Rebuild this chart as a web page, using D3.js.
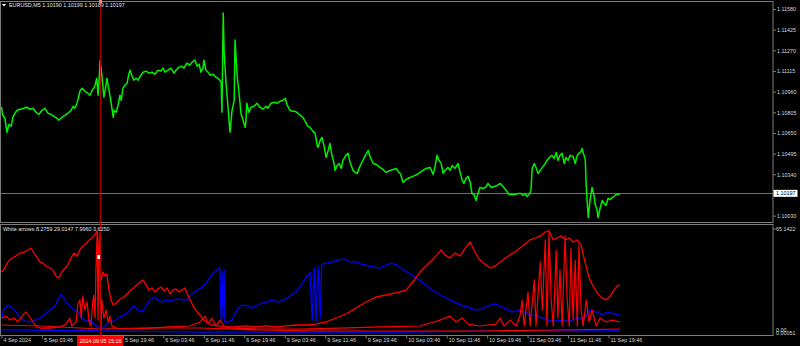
<!DOCTYPE html>
<html>
<head>
<meta charset="utf-8">
<script src="https://cdn.jsdelivr.net/npm/d3@7"></script>
<style>
  html, body { margin: 0; padding: 0; background: #000; }
  #viz { width: 800px; height: 346px; }
  text { font-family: "Liberation Sans", Arial, sans-serif; }
</style>
</head>
<body>
<div id="viz"></div>
<script>
// EURUSD M5 closes, bar number counted from 4 Sep 19:46
var priceBar = [0,3,8,13,18,23,27,32,37,44,53,60,68,75,82,89,96,103,110,117,125,132,136,143,151,158,165,170,174,179,181,186,191,196,200,205,210,215,219,222,226,229,231,234,238,243,248,250,255,260,265,267,272,276,281,284,288,293,298,302,305,310,314,319,324,329,336,343,350,357,364,371,378,383,388,395,402,409,414,421,428,433,440,447,452,459,464,469,473,478,480,485,490,495,502,509,516,521,523,526,528,533,537,542,547,552,554,559,564,568,573,578,580,582,587,592,599,606,613,620,628,632,639,647,654,661,668,673,677,684,689,696,703,708,715,720,727,732,739,744,749,751,756,760,765,770,775,779,784,789,791,796,801,806,810,817,822,827,834,839,844,848,855,862,870,874,882,889,898,905,912,922,929,936,941,946,953,960,969,976,986,993,1000,1007,1017,1024,1029,1033,1038,1043,1048,1052,1059,1064,1069,1076,1083,1088,1093,1097,1102,1107,1112,1116,1121,1126,1131,1135,1143,1150,1154,1162,1169,1176,1183,1190,1197,1204,1211,1218,1226,1233,1237,1242,1247,1252,1256,1259,1264,1268,1273,1278,1285,1290,1294,1302,1306,1311,1316,1320,1325,1330,1335,1339,1344,1349,1356,1361,1366,1370,1375,1377,1382,1385,1387,1392,1396,1401,1406,1408,1413,1415,1420,1425,1430,1434,1439,1444,1449,1453,1458,1463,1467];
var priceClose = [1.10843,1.10783,1.10760,1.10655,1.10715,1.10700,1.10767,1.10798,1.10820,1.10828,1.10835,1.10843,1.10828,1.10835,1.10805,1.10790,1.10820,1.10835,1.10798,1.10790,1.10775,1.10760,1.10745,1.10767,1.10783,1.10798,1.10820,1.10850,1.10835,1.10873,1.10895,1.10963,1.10986,1.10971,1.10956,1.10948,1.10933,1.10971,1.10986,1.11008,1.11061,1.10933,1.11016,1.11196,1.11083,1.10918,1.11008,1.11061,1.10971,1.10880,1.10767,1.10820,1.10805,1.10850,1.10933,1.10895,1.10986,1.11008,1.11023,1.11091,1.11121,1.11076,1.11046,1.11061,1.11046,1.11076,1.11106,1.11114,1.11098,1.11106,1.11091,1.11121,1.11114,1.11136,1.11106,1.11121,1.11136,1.11098,1.11121,1.11144,1.11151,1.11136,1.11174,1.11159,1.11181,1.11196,1.11151,1.11166,1.11106,1.11136,1.11196,1.11121,1.11106,1.11083,1.11091,1.11068,1.11053,1.11031,1.10805,1.11550,1.11271,1.11008,1.10858,1.10655,1.10820,1.10895,1.11347,1.11083,1.10933,1.10798,1.10745,1.10692,1.10745,1.10873,1.10805,1.10843,1.10850,1.10873,1.10843,1.10828,1.10850,1.10835,1.10873,1.10880,1.10873,1.10888,1.10895,1.10910,1.10865,1.10820,1.10813,1.10813,1.10798,1.10783,1.10767,1.10738,1.10700,1.10692,1.10662,1.10647,1.10557,1.10542,1.10594,1.10617,1.10557,1.10467,1.10519,1.10572,1.10482,1.10421,1.10369,1.10406,1.10421,1.10384,1.10444,1.10482,1.10497,1.10429,1.10369,1.10354,1.10346,1.10384,1.10429,1.10474,1.10519,1.10474,1.10421,1.10414,1.10391,1.10376,1.10354,1.10369,1.10376,1.10384,1.10361,1.10346,1.10279,1.10301,1.10316,1.10324,1.10339,1.10354,1.10369,1.10384,1.10391,1.10339,1.10406,1.10482,1.10444,1.10421,1.10346,1.10369,1.10391,1.10369,1.10406,1.10384,1.10421,1.10354,1.10294,1.10271,1.10309,1.10324,1.10279,1.10196,1.10188,1.10143,1.10203,1.10241,1.10233,1.10248,1.10271,1.10241,1.10248,1.10256,1.10271,1.10248,1.10218,1.10188,1.10188,1.10188,1.10196,1.10196,1.10181,1.10196,1.10173,1.10188,1.10218,1.10384,1.10421,1.10391,1.10346,1.10369,1.10399,1.10421,1.10444,1.10474,1.10482,1.10459,1.10504,1.10444,1.10482,1.10497,1.10421,1.10467,1.10444,1.10482,1.10474,1.10421,1.10482,1.10497,1.10512,1.10534,1.10482,1.10444,1.10256,1.10015,1.10143,1.10241,1.10173,1.10121,1.10068,1.10015,1.10083,1.10143,1.10121,1.10106,1.10158,1.10151,1.10166,1.10173,1.10188,1.10188,1.10197];

// indicator "White arrows" buffers
var redHighBar = [0,8,15,25,34,44,53,63,70,77,84,91,98,106,115,122,129,136,143,151,158,165,172,179,186,193,200,208,215,222,227,231,236,241,246,250,255,260,265,272,279,286,293,300,307,314,321,329,336,343,350,357,364,371,378,386,393,400,407,414,421,428,435,442,450,457,464,471,480,490,499,514,533,556,580,604,628,651,675,699,722,746,770,794,817,841,865,889,912,936,960,979,993,1007,1022,1033,1043,1052,1064,1076,1088,1100,1112,1121,1131,1140,1150,1159,1171,1183,1195,1207,1218,1230,1242,1254,1266,1278,1290,1299,1309,1318,1328,1337,1347,1356,1366,1375,1382,1389,1396,1406,1415,1425,1434,1444,1453,1461,1467];
var redHigh = [38.2,40.7,44.5,47.0,48.2,50.1,50.7,52.0,53.2,50.1,47.6,44.5,43.8,42.0,40.7,39.5,35.7,34.5,38.2,40.7,43.2,47.0,50.1,48.2,52.0,54.5,55.7,58.3,59.5,62.0,63.9,48.9,33.2,38.2,35.7,37.0,26.9,20.7,17.5,18.8,20.7,21.9,23.2,25.1,26.9,28.2,30.1,31.9,33.2,30.1,26.9,28.2,25.7,27.6,28.8,26.3,28.2,24.4,26.9,27.6,25.7,26.9,28.2,23.8,19.4,15.7,13.2,11.3,8.1,6.3,5.0,4.4,3.8,3.8,4.4,3.8,4.4,3.8,4.4,5.0,5.0,5.6,6.9,9.4,11.9,15.7,19.4,22.6,23.8,25.1,26.9,33.2,38.2,42.0,45.7,48.9,52.0,48.9,47.0,50.1,48.2,53.2,57.0,52.0,47.0,44.5,42.6,40.7,42.0,44.5,47.0,48.9,50.7,53.2,55.7,58.3,59.5,60.8,63.3,63.9,58.3,59.5,60.8,58.3,59.5,57.0,58.3,55.1,47.0,39.5,33.2,28.2,24.4,21.9,20.7,23.2,26.9,29.4,30.1];

var blueBar = [0,6,15,25,34,44,56,68,79,91,103,115,127,134,141,148,155,162,172,181,191,200,210,219,229,238,248,257,267,276,286,295,305,314,324,333,343,352,362,371,381,390,400,409,419,428,438,447,457,466,476,485,495,504,514,518,521,523,526,528,530,537,547,556,566,575,585,594,604,613,628,642,656,670,684,699,713,722,732,737,742,746,751,756,760,770,784,798,813,827,841,855,870,884,898,912,927,941,955,969,984,998,1012,1026,1041,1055,1069,1083,1097,1112,1126,1140,1154,1169,1183,1197,1211,1226,1240,1254,1268,1283,1297,1311,1325,1339,1354,1368,1382,1396,1411,1425,1439,1453,1467];
var blue = [9.4,15.0,17.5,15.7,13.2,9.4,7.5,6.9,8.1,9.4,11.9,14.4,16.9,20.7,24.4,21.9,18.8,16.9,14.4,13.2,9.4,7.5,8.1,5.6,3.8,3.1,5.0,6.9,7.5,9.4,10.6,11.9,14.4,16.9,14.4,13.2,16.9,20.7,22.6,20.7,19.4,20.7,20.0,20.7,21.3,20.7,20.7,23.2,25.7,26.9,28.8,31.3,35.1,38.2,40.1,40.7,8.1,38.2,9.4,39.5,6.9,6.9,8.1,13.2,16.9,17.5,16.9,15.7,16.9,18.2,19.4,20.7,19.4,20.7,23.2,25.7,30.7,34.5,38.2,8.1,40.7,6.9,42.0,9.4,43.2,43.8,44.5,45.7,46.4,44.5,44.5,43.2,42.0,41.3,40.7,42.6,43.8,42.0,39.5,37.0,34.5,31.9,28.8,26.3,23.8,21.9,20.0,18.2,16.9,15.7,14.4,15.0,16.9,18.2,16.9,15.0,13.2,14.4,13.2,11.3,10.6,9.4,8.1,7.5,8.1,7.5,8.1,9.4,9.4,14.4,13.2,11.3,13.2,11.9,11.3];

var redSpikeBar = [0,11,20,30,39,49,58,68,75,82,91,115,139,153,162,167,177,181,186,189,193,198,203,208,212,217,219,222,224,227,229,231,234,236,238,243,248,253,257,262,272,305,352,400,447,471,483,490,499,509,518,528,542,613,708,803,898,993,1041,1064,1078,1093,1107,1135,1173,1183,1192,1207,1221,1230,1235,1240,1249,1254,1264,1268,1278,1283,1290,1294,1299,1304,1309,1316,1320,1325,1330,1337,1342,1347,1351,1356,1361,1366,1370,1375,1380,1387,1394,1401,1411,1420,1434,1449,1467];
var redSpike = [9.4,10.6,8.1,9.4,6.9,10.6,13.2,9.4,6.9,4.4,3.1,3.1,3.8,5.6,9.4,4.4,6.9,17.5,20.7,9.4,23.2,14.4,19.4,6.9,4.4,20.7,23.8,9.4,39.5,63.3,8.1,45.7,63.3,1.9,20.7,9.4,14.4,6.9,10.6,4.4,3.1,2.5,3.1,3.8,4.4,6.9,10.6,5.6,9.4,4.4,8.1,4.4,3.1,2.5,2.5,3.1,3.8,4.4,8.1,10.6,6.9,9.4,5.6,4.4,5.6,9.4,4.4,8.1,4.4,10.6,20.7,4.4,25.7,4.4,33.2,4.4,44.5,14.4,58.3,4.4,63.3,20.7,4.4,52.0,9.4,39.5,4.4,60.8,20.7,4.4,53.2,8.1,45.7,4.4,55.1,14.4,4.4,20.7,6.9,14.4,4.4,9.4,6.9,8.1,6.9];

var redLowBar = [0,91,186,234,329,471,613,756,946,1135,1325,1467];
var redLow = [5.0,4.4,3.1,2.5,3.1,3.1,1.9,1.3,1.3,1.3,1.9,2.5];
var blueLowBar = [0,234,471,708,946,1183,1467];
var blueLow = [1.9,1.3,0.6,0.6,0.6,1.3,1.3];

var arrowMark = [231, 47.6];
var cursorBar = 234;
var lastClose = 1.10197;

var priceTicks = [1.11580,1.11425,1.11270,1.11115,1.10960,1.10805,1.10650,1.10495,1.10340,1.10030];
// the 5 Sep 11:46 tick sits under the crosshair date box, so it is left out
var timeTickBars = [0,96,288,384,480,576,672,768,864,960,1056,1152,1248,1344,1440];
var timeTickLabels = ["4 Sep 2024","5 Sep 03:46","5 Sep 19:46","6 Sep 03:46","6 Sep 11:46","6 Sep 19:46","9 Sep 03:46","9 Sep 11:46","9 Sep 19:46","10 Sep 03:46","10 Sep 11:46","10 Sep 19:46","11 Sep 03:46","11 Sep 11:46","11 Sep 19:46"];

var titleText = "EURUSD,M5  1.10190 1.10199 1.10189 1.10197";
var subTitleText = "White arrows 8.2759 29.0147 7.9960 3.6250";
var cursorLabel = "2024.09.05 15:16";

var width = 800, height = 346;
var axisX = 773;
var gray = "#7c7c7c";

var svg = d3.select("#viz").append("svg")
    .attr("width", width)
    .attr("height", height)
    .style("display", "block");

svg.append("rect").attr("width", width).attr("height", height).attr("fill", "#000");

/* scales */

var x = d3.scaleLinear()
    .domain([0, 1440])
    .range([1.5, 608.5]);

var yPrice = d3.scaleLinear()
    .domain([1.10030, 1.11580])
    .range([215.6, 9]);

var yInd = d3.scaleLinear()
    .domain([0, 65.1422])
    .range([333, 229]);

/* frames */

svg.append("rect")
    .attr("x", 0.5).attr("y", 1.5)
    .attr("width", axisX - 0.5).attr("height", 221)
    .attr("fill", "none").attr("stroke", gray);

svg.append("rect")
    .attr("x", 0.5).attr("y", 224.5)
    .attr("width", axisX - 0.5).attr("height", 111)
    .attr("fill", "none").attr("stroke", gray);

/* right price axis */

var priceAxis = svg.append("g")
    .attr("transform", "translate(" + axisX + ",0)")
    .call(d3.axisRight(yPrice).tickValues(priceTicks).tickSize(3).tickPadding(1)
      .tickFormat(d3.format(".5f")));
priceAxis.select(".domain").remove();
priceAxis.selectAll("line").attr("stroke", gray);
priceAxis.selectAll("text").attr("fill", "#d8d8d8").style("font-size", "5.4px");

// indicator axis labels (min labels overlap like in the terminal)
var indLabels = [[65.1422, "65.1422", 229], [0, "0.00", 330], [0, "0.00051", 333.5]];
svg.append("g").selectAll("text")
    .data(indLabels)
    .enter().append("text")
    .attr("x", axisX + 3)
    .attr("y", function(d) { return d[2]; })
    .attr("dy", "0.35em")
    .attr("fill", "#d8d8d8")
    .style("font-size", "5.4px")
    .text(function(d) { return d[1]; });
svg.append("line")
    .attr("x1", axisX).attr("x2", axisX + 3)
    .attr("y1", yInd(65.1422)).attr("y2", yInd(65.1422))
    .attr("stroke", gray);

/* bottom time axis */

var timeAxis = svg.append("g")
    .attr("transform", "translate(0,335.5)")
    .call(d3.axisBottom(x).tickValues(timeTickBars).tickSize(3)
      .tickFormat(function(d, i) { return timeTickLabels[i]; }));
timeAxis.select(".domain").remove();
timeAxis.selectAll("line").attr("stroke", gray);
timeAxis.selectAll("text")
    .attr("fill", "#d8d8d8")
    .attr("text-anchor", "start")
    .attr("x", 1.5)
    .attr("y", 2.5)
    .attr("dy", "0.71em")
    .style("font-size", "5.4px");

/* price panel */

var priceLine = d3.line()
    .x(function(d) { return x(d[0]); })
    .y(function(d) { return yPrice(d[1]); });

// last price level
svg.append("line")
    .attr("x1", 1).attr("x2", axisX)
    .attr("y1", Math.round(yPrice(lastClose)) + 0.5)
    .attr("y2", Math.round(yPrice(lastClose)) + 0.5)
    .attr("stroke", "#6e6e6e");

svg.append("path")
    .datum(d3.zip(priceBar, priceClose))
    .attr("d", priceLine)
    .attr("fill", "none")
    .attr("stroke", "#00f000")
    .attr("stroke-width", 1.5)
    .attr("stroke-linejoin", "round");

var lastY = yPrice(lastClose);
svg.append("rect")
    .attr("x", axisX + 0.5).attr("y", lastY - 3.5)
    .attr("width", 24).attr("height", 7)
    .attr("fill", "#fff");
svg.append("text")
    .attr("x", axisX + 3).attr("y", lastY)
    .attr("dy", "0.35em")
    .attr("fill", "#000")
    .style("font-size", "5.4px")
    .text(d3.format(".5f")(lastClose));

/* indicator panel */

var indLine = d3.line()
    .x(function(d) { return x(d[0]); })
    .y(function(d) { return yInd(d[1]); });

var indSeries = [
  {bars: blueLowBar, vals: blueLow, color: "#0000ff", w: 1.2},
  {bars: redLowBar, vals: redLow, color: "#ff0000", w: 1.1},
  {bars: blueBar, vals: blue, color: "#0000ff", w: 1.3},
  {bars: redSpikeBar, vals: redSpike, color: "#ff0000", w: 1.2},
  {bars: redHighBar, vals: redHigh, color: "#ff0000", w: 1.3}
];

svg.append("g").selectAll("path")
    .data(indSeries)
    .enter().append("path")
    .attr("d", function(d) { return indLine(d3.zip(d.bars, d.vals)); })
    .attr("fill", "none")
    .attr("stroke", function(d) { return d.color; })
    .attr("stroke-width", function(d) { return d.w; })
    .attr("stroke-linejoin", "round");

// white arrow
svg.append("rect")
    .attr("x", x(arrowMark[0]) - 1.5).attr("y", yInd(arrowMark[1]) - 2)
    .attr("width", 3).attr("height", 4)
    .attr("fill", "#fff");

/* crosshair at the selected bar */

var cx = Math.round(x(cursorBar)) + 0.5;
svg.append("line")
    .attr("x1", cx).attr("x2", cx)
    .attr("y1", 0).attr("y2", 336)
    .attr("stroke", "#b00000");
svg.append("rect")
    .attr("x", cx - 1.5).attr("y", 0)
    .attr("width", 3).attr("height", 3)
    .attr("fill", "#ff8080");

svg.append("rect")
    .attr("x", cx - 23.5).attr("y", 336)
    .attr("width", 46).attr("height", 10)
    .attr("fill", "#ff0000");
svg.append("text")
    .attr("x", cx).attr("y", 341)
    .attr("dy", "0.35em")
    .attr("text-anchor", "middle")
    .attr("fill", "#fff")
    .style("font-size", "5.4px")
    .text(cursorLabel);

/* headers */

svg.append("path")
    .attr("d", "M2,4 L6,4 L4,6.5 Z")
    .attr("fill", "#fff");
svg.append("text")
    .attr("x", 9).attr("y", 5)
    .attr("dy", "0.35em")
    .attr("fill", "#e0e0e0")
    .style("font-size", "5.4px")
    .text(titleText);

svg.append("text")
    .attr("x", 3).attr("y", 229.5)
    .attr("dy", "0.35em")
    .attr("fill", "#e0e0e0")
    .style("font-size", "5.4px")
    .text(subTitleText);
</script>
</body>
</html>
